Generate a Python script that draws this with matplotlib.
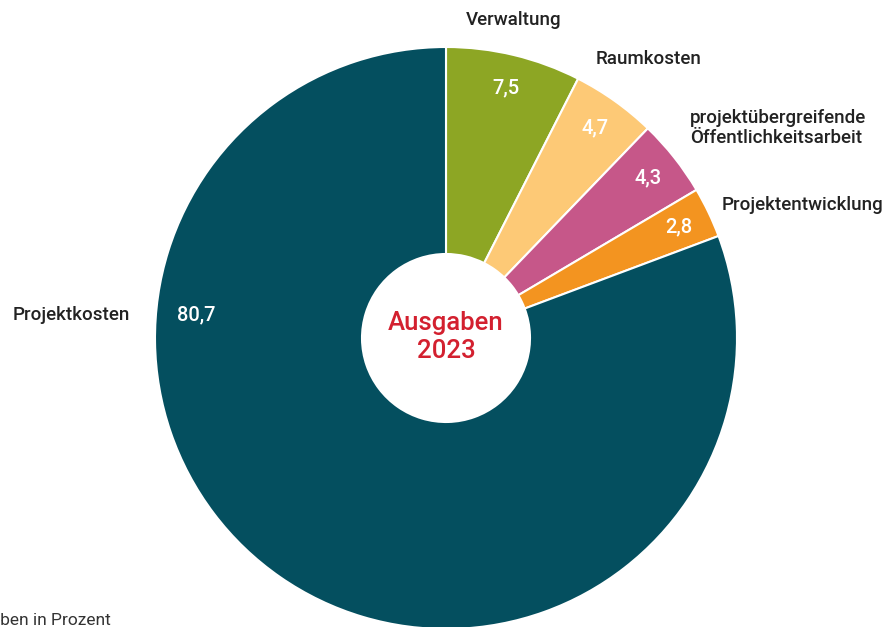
import matplotlib
matplotlib.use("Agg")
import matplotlib.pyplot as plt

# Daten
kategorien = ["Verwaltung", "Raumkosten", "projektübergreifende\nÖffentlichkeitsarbeit",
              "Projektentwicklung", "Projektkosten"]
werte = [7.5, 4.7, 4.3, 2.8, 80.7]
farben = ["#8da624", "#fdc976", "#c65789", "#f39420", "#044f5f"]

W, H = 893, 627
plt.rcParams['font.family'] = ['Roboto', 'DejaVu Sans']

fig = plt.figure(figsize=(W / 100, H / 100), dpi=100)
ax = fig.add_axes([0, 0, 1, 1])

def py(y):
    # Pixel-y (von oben) -> Daten-y
    return H - y

cx, cy, R, r_innen = 446, 338, 291, 84

wedges, texte, werttexte = ax.pie(
    werte, colors=farben, startangle=90, counterclock=False,
    center=(cx, py(cy)), radius=R,
    autopct=lambda p: f"{p:.1f}".replace(".", ","), pctdistance=0.885,
    wedgeprops=dict(width=R - r_innen, edgecolor="white", linewidth=1.5),
    textprops=dict(color="white", fontsize=14.5, fontweight="medium"))

# Projektkosten-Wert sitzt links statt in der Mitte des Segments
werttexte[4].set_position((196, py(315)))

lab = dict(fontsize=13.5, fontweight="medium", color="#222222", va="center")
# Beschriftungen außen
ax.text(514, py(20), "Verwaltung", ha="center", **lab)
ax.text(596, py(59), "Raumkosten", ha="left", **lab)
ax.text(690, py(128), kategorien[2], ha="left", linespacing=1.08, **lab)
ax.text(722, py(205), "Projektentwicklung", ha="left", **lab)
ax.text(130, py(315), "Projektkosten", ha="right", **lab)

# Mitte
ax.text(cx, py(337), "Ausgaben\n2023", ha="center", va="center", fontsize=18.5,
        fontweight="medium", color="#d3202f", linespacing=1.2)

ax.text(111, py(620), "Angaben in Prozent", ha="right", va="center", fontsize=12.5,
        color="#333333")

ax.set_xlim(0, W)
ax.set_ylim(0, H)
ax.set_aspect("equal")
ax.axis("off")

fig.savefig("out.png", dpi=100)
